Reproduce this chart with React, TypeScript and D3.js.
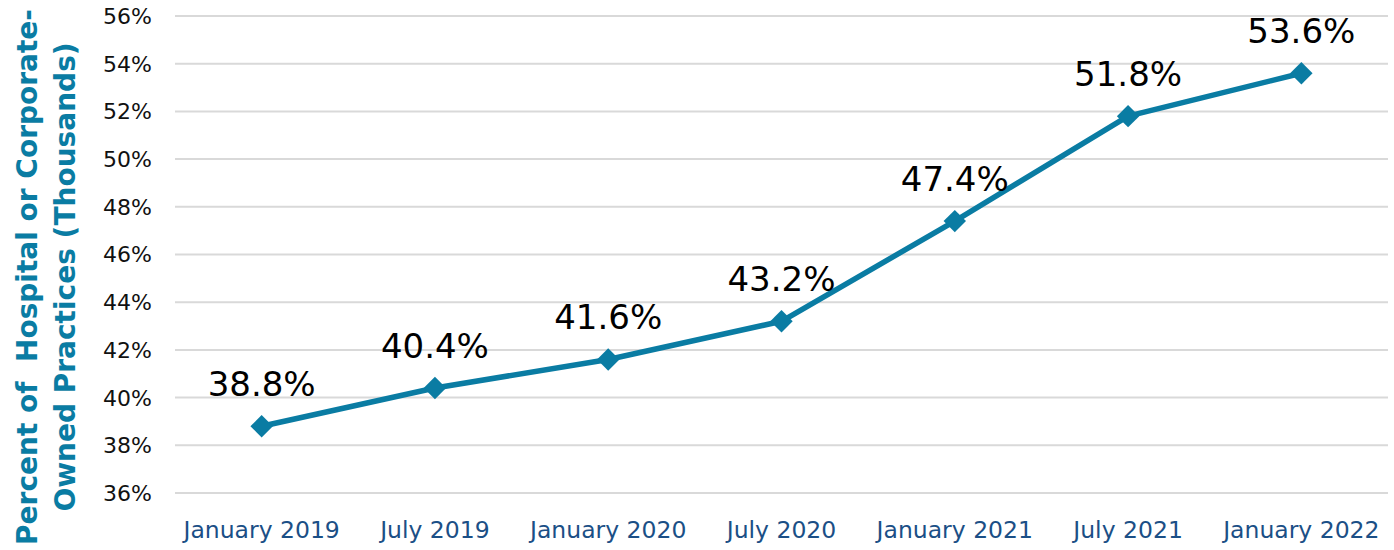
import React, { useEffect, useRef } from 'react';
import * as d3 from 'd3';

const periods = ['January 2019', 'July 2019', 'January 2020', 'July 2020', 'January 2021', 'July 2021', 'January 2022'];
const shares = [38.8, 40.4, 41.6, 43.2, 47.4, 51.8, 53.6];
const yTicks = [36, 38, 40, 42, 44, 46, 48, 50, 52, 54, 56];
const titleLines = ['Percent of  Hospital or Corporate-', 'Owned Practices (Thousands)'];

const W = 1394, H = 550;
const FONT = '"DejaVu Sans", Verdana, sans-serif';
const TEAL = '#0a7ca3';

function App() {
  const ref = useRef<SVGSVGElement>(null);

  useEffect(() => {
    const svg = d3.select(ref.current);
    svg.selectAll('*').remove();

    const margin = { top: 16, right: 6, bottom: 57, left: 175 };

    const x = d3.scalePoint<string>()
      .domain(periods)
      .range([margin.left, W - margin.right])
      .padding(0.5);

    const y = d3.scaleLinear()
      .domain([36, 56])
      .range([H - margin.bottom, margin.top]);

    // gridlines
    svg.append('g')
      .selectAll('line')
      .data(yTicks)
      .join('line')
      .attr('x1', margin.left)
      .attr('x2', W - margin.right)
      .attr('y1', d => y(d))
      .attr('y2', d => y(d))
      .attr('stroke', '#d9d9d9')
      .attr('stroke-width', 2);

    // y tick labels
    svg.append('g')
      .selectAll('text')
      .data(yTicks)
      .join('text')
      .attr('x', 152)
      .attr('y', d => y(d))
      .attr('dy', '0.36em')
      .attr('text-anchor', 'end')
      .attr('font-family', FONT)
      .attr('font-size', 22)
      .attr('fill', '#111')
      .text(d => d + '%');

    // x labels
    svg.append('g')
      .selectAll('text')
      .data(periods)
      .join('text')
      .attr('x', d => x(d)!)
      .attr('y', 538)
      .attr('text-anchor', 'middle')
      .attr('font-family', FONT)
      .attr('font-size', 23.5)
      .attr('fill', '#1b4f86')
      .text(d => d);

    // y title
    const title = svg.append('text')
      .attr('transform', 'translate(0,277) rotate(-90)')
      .attr('text-anchor', 'middle')
      .attr('font-family', FONT)
      .attr('font-weight', 'bold')
      .attr('font-size', 28)
      .attr('fill', TEAL)
      .style('white-space', 'pre');
    title.selectAll('tspan')
      .data(titleLines)
      .join('tspan')
      .attr('x', 0)
      .attr('y', (d, i) => (i === 0 ? 37 : 75))
      .text(d => d);

    const pts = periods.map((p, i) => ({ p, v: shares[i] }));

    const line = d3.line<{ p: string; v: number }>()
      .x(d => x(d.p)!)
      .y(d => y(d.v));

    svg.append('path')
      .datum(pts)
      .attr('d', line)
      .attr('fill', 'none')
      .attr('stroke', TEAL)
      .attr('stroke-width', 5.5)
      .attr('stroke-linejoin', 'round');

    svg.append('g')
      .selectAll('path')
      .data(pts)
      .join('path')
      .attr('d', d3.symbol().type(d3.symbolDiamond2).size(320))
      .attr('transform', d => `translate(${x(d.p)},${y(d.v)})`)
      .attr('fill', TEAL);

    // data labels
    svg.append('g')
      .selectAll('text')
      .data(pts)
      .join('text')
      .attr('x', d => x(d.p)!)
      .attr('y', d => y(d.v) - 30)
      .attr('text-anchor', 'middle')
      .attr('font-family', FONT)
      .attr('font-size', 34)
      .attr('fill', '#000')
      .text(d => d.v.toFixed(1) + '%');
  }, []);

  return (
    <svg ref={ref} width={W} height={H} style={{ position: 'absolute', left: 0, top: 0 }} />
  );
}

export default App;
